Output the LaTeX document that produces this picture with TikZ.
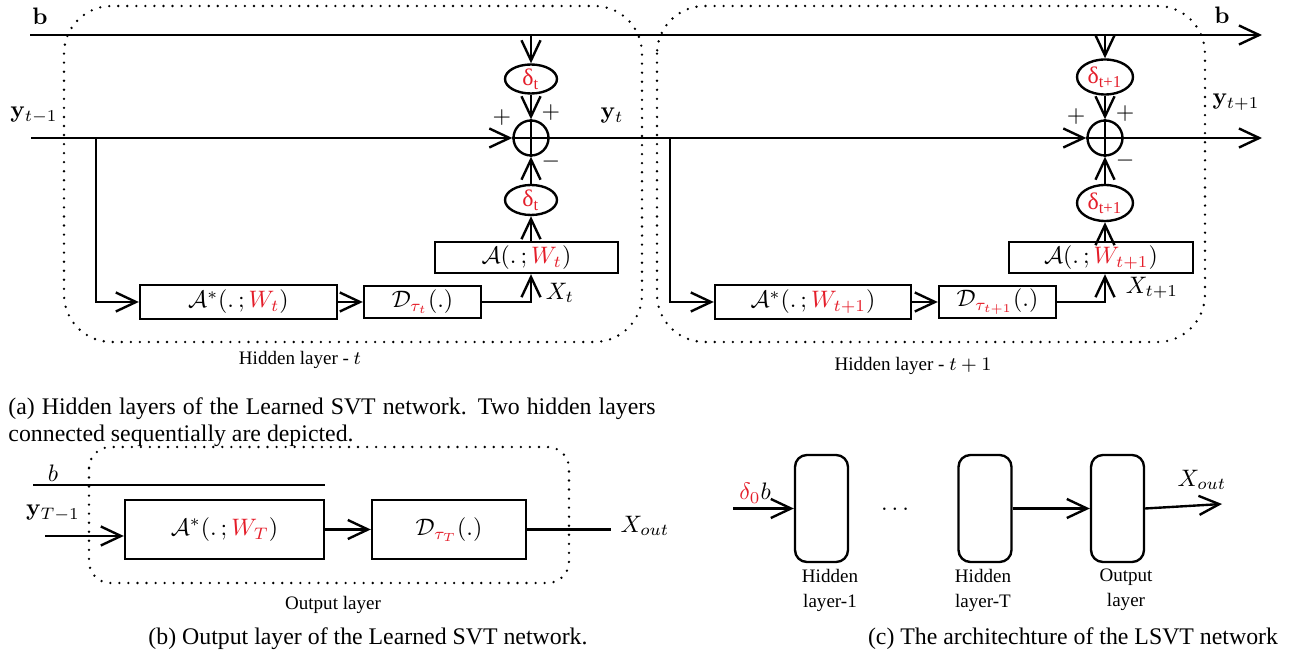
\documentclass[tikz,border=0pt]{standalone}
\usepackage[no-math]{fontspec}
\setmainfont{Liberation Serif}
\usepackage{amsmath, amssymb}
\usepackage{tikz}
\usetikzlibrary{shapes.geometric, arrows.meta}

\definecolor{wred}{RGB}{228,30,42}
\newcommand{\pxu}{0.42pt}
\tikzset{
  box/.style 2 args={draw, line width=1pt, rectangle, inner sep=0pt, minimum width=#1*\pxu, minimum height=#2*\pxu},
  ell/.style 2 args={draw, line width=1pt, ellipse, inner sep=0pt, minimum width=#1*\pxu, minimum height=#2*\pxu},
  rbox/.style={draw, line width=1pt, rounded corners=5pt, inner sep=0pt, minimum width=53*\pxu, minimum height=107*\pxu},
  sumnode/.style={draw, line width=1pt, circle, inner sep=0pt, minimum size=35*\pxu},
  ln/.style={line width=1pt},
  arr/.style={line width=1pt, -{Straight Barb[length=8.5pt,width=8pt,line width=1pt]}},
  frame/.style={line width=1.1pt, line cap=round, dash pattern=on 0pt off 3.8pt, rounded corners=#1},
  lbl/.style={font=\fontsize{8}{10.5}\selectfont, align=center},
}

\begin{document}
\begin{tikzpicture}[x=\pxu, y=-\pxu]
\useasboundingbox (0,0) rectangle (1312,660);

%% (a) two hidden layers
\coordinate (bL) at (30,35);
\coordinate (bR) at (1262,35);
\coordinate (yL) at (31,138);
\coordinate (yR) at (1262,138);
\node (bLbl) at (40,16) {$\mathbf{b}$};
\node (bLblR) at (1222,15) {$\mathbf{b}$};
\node (yPrev) at (34,115) {$\mathbf{y}_{t-1}$};

%%% layer t
\draw[frame=20pt] (64,6) rectangle (642,342);
\node[lbl] (hidT) at (300,360) {Hidden layer - $t$};
\node[ell={52}{29}] (ellUT) at (531,79) {\color{wred}δ\textsubscript{t}};
\node[sumnode] (sumT) at (531,138) {};
\node[ell={52}{30}] (ellLT) at (531,200) {\color{wred}δ\textsubscript{t}};
\node[box={183}{31}] (aT) at (526.5,257.5) {$\mathcal{A}(.\,;\textcolor{wred}{W_t})$};
\node[box={197}{34}] (astarT) at (238.5,302) {$\mathcal{A}^*(.\,;\textcolor{wred}{W_t})$};
\node[box={117}{32}] (dT) at (422.5,302) {$\mathcal{D}_{\textcolor{wred}{\tau_t}}(.)$};
\coordinate (tapT) at (96,138);
\node (yT) at (612,116) {$\mathbf{y}_t$};
\node (xT) at (560,293) {$X_t$};
\node (pT1) at ([shift={(-29,-20)}]sumT) {$+$};
\node (pT2) at ([shift={(20,-25)}]sumT) {$+$};
\node (mT) at ([shift={(20,24)}]sumT) {$-$};

%%% layer t+1
\draw[frame=20pt] (657,6) rectangle (1205,342);
\node[lbl] (hidU) at (913,366) {Hidden layer - $t+1$};
\node[ell={56}{35}] (ellUU) at (1105,77) {\color{wred}δ\textsubscript{t+1}};
\node[sumnode] (sumU) at (1105,138) {};
\node[ell={56}{36}] (ellLU) at (1105,203) {\color{wred}δ\textsubscript{t+1}};
\node[box={184}{31}] (aU) at (1101,257.5) {$\mathcal{A}(.\,;\textcolor{wred}{W_{t+1}})$};
\node[box={196}{34}] (astarU) at (813,302) {$\mathcal{A}^*(.\,;\textcolor{wred}{W_{t+1}})$};
\node[box={117}{32}] (dU) at (997.5,302) {$\mathcal{D}_{\textcolor{wred}{\tau_{t+1}}}(.)$};
\coordinate (tapU) at (670,138);
\node (yNext) at (1236,102) {$\mathbf{y}_{t+1}$};
\node (xU) at (1152,288) {$X_{t+1}$};
\node (pU1) at ([shift={(-29,-21)}]sumU) {$+$};
\node (pU2) at ([shift={(20,-24)}]sumU) {$+$};
\node (mU) at ([shift={(20,23)}]sumU) {$-$};

%%% edges
\draw[arr] (bL) -- (bR);
\draw[arr] (yL) -- (sumT.west);
\draw[ln] (sumT.west) -- (sumT.east);
\draw[arr] (sumT.east) -- (sumU.west);
\draw[ln] (sumU.west) -- (sumU.east);
\draw[arr] (sumU.east) -- (yR);

\draw[arr] (tapT) |- (astarT.west);
\draw[arr] (astarT.east) -- (dT.west);
\draw[arr] (dT.east) -| (aT.south -| sumT);
\draw[arr] (aT.north -| sumT) -- (ellLT.south);
\draw[arr] (ellLT.north) -- (sumT.south);
\draw[ln] (sumT.north) -- (sumT.south);
\draw[arr] (sumT |- bL) -- (ellUT.north);
\draw[arr] (ellUT.south) -- (sumT.north);

\draw[arr] (tapU) |- (astarU.west);
\draw[arr] (astarU.east) -- (dU.west);
\draw[arr] (dU.east) -| (aU.south -| sumU);
\draw[arr] (aU.north -| sumU) -- (ellLU.south);
\draw[arr] (ellLU.north) -- (sumU.south);
\draw[ln] (sumU.north) -- (sumU.south);
\draw[arr] (sumU |- bL) -- (ellUU.north);
\draw[arr] (ellUU.south) -- (sumU.north);

\node[anchor=north west, inner sep=0pt, text width=647*\pxu, align=justify,
  font=\fontsize{10}{11.5}\selectfont] (capA) at (8,397)
  {(a) Hidden layers of the Learned SVT network. Two hidden layers connected sequentially are depicted.};

%% (b) output layer
\draw[frame=9pt] (89,447) rectangle (569,583);
\node[lbl] (outLbl) at (333,605) {Output layer};
\node[box={199}{59}] (astarO) at (224.5,529.5) {$\mathcal{A}^*(.\,;\textcolor{wred}{W_T})$};
\node[box={154}{59}] (dO) at (449,529.5) {$\mathcal{D}_{\textcolor{wred}{\tau_T}}(.)$};
\coordinate (bOL) at (33,485);
\coordinate (yOL) at (45,536);
\coordinate (outEnd) at (611,529.5);
\node (bO) at (53,473) {$b$};
\node (yO) at (53,513) {$\mathbf{y}_{T-1}$};
\node (xOut) at (645,526) {$X_{out}$};
\draw[ln] (bOL) -- (bOL -| astarO.east);
\draw[arr] (yOL) -- (yOL -| astarO.west);
\draw[arr] (astarO.east) -- (dO.west);
\draw[ln] (dO.east) -- (outEnd);
\node (capB) at (368,645) [anchor=base] {(b) Output layer of the Learned SVT network.};

%% (c) the whole network
\node[rbox] (hid1) at (821.5,508.5) {};
\node[rbox] (hidLast) at (985,508.5) {};
\node[rbox] (outBox) at (1117.5,508.5) {};
\coordinate (cIn) at (733,508.5);
\coordinate (cOut) at (1222,504);
\node (dots) at (897,511) [anchor=base] {$\dots$};
\node (inLbl) at (755,493) {$\textcolor{wred}{\delta_0}b$};
\node (xOutC) at (1202,480) {$X_{out}$};
\node[lbl] (h1Lbl) at (830,590) {Hidden\\layer-1};
\node[lbl] (hTLbl) at (983,590) {Hidden\\layer-T};
\node[lbl] (oLbl) at (1126,590) {Output\\layer};
\draw[arr] (cIn) -- (hid1.west);
\draw[arr] (hidLast.east) -- (outBox.west);
\draw[arr] (outBox.east) -- (cOut);
\node (capC) at (1073,645) [anchor=base] {(c) The architechture of the LSVT network};

\end{tikzpicture}
\end{document}
